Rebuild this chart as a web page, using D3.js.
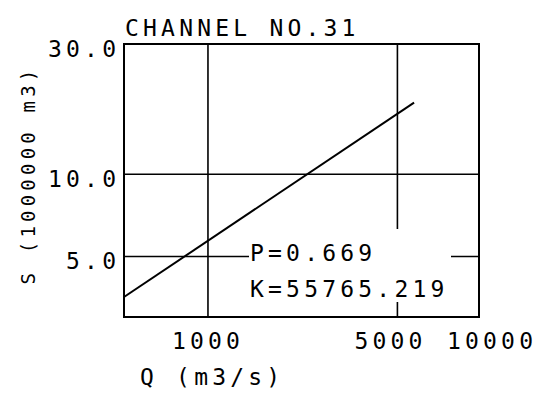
<!DOCTYPE html>
<html>
<head>
<meta charset="utf-8">
<script src="https://cdn.jsdelivr.net/npm/d3@7"></script>
<style>
  html, body { margin: 0; padding: 0; background: #fff; }
  svg { display: block; }
</style>
</head>
<body>
<div class="chart"></div>
<script>
// values
const titleText = "CHANNEL NO.31"
const xTitle = "Q (m3/s)"
const yTitle = "S (1000000 m3)"

const xDomain = [490, 10000]
const yDomain = [3, 30]

const xTickValues = [1000, 5000, 10000]
const xTickLabels = ["1000", "5000", "10000"]
const yTickValues = [5, 10, 30]
const yTickLabels = ["5.0", "10.0", "30.0"]

const xGridValues = [1000, 5000]
const yGridValues = [5, 10]

// fitted line end points (Q, S)
const fitQ = [490, 5760]
const fitS = [3.55, 18.3]

const fitParams = ["P=0.669", "K=55765.219"]

const width = 540
const height = 403

function drawChart() {
    const left = 124, right = 479, top = 44, bottom = 317

    const x = d3.scaleLog().domain(xDomain).range([left, right])
    const y = d3.scaleLog().domain(yDomain).range([bottom, top])

    const svg = d3.create("svg")
    .attr("width", width)
    .attr("height", height)
    .attr("viewBox", [0, 0, width, height])

    svg.append("rect")
    .attr("width", width)
    .attr("height", height)
    .attr("fill", "white")

    const font = "DejaVu Sans Mono, monospace"
    const ls = 4.2   // plotter font is widely spaced

    // grid lines
    const grid = svg.append("g")
    .attr("stroke", "black")
    .attr("stroke-width", 1.6)

    grid.selectAll(".vg")
    .data(xGridValues)
    .join("line")
    .attr("class", "vg")
    .attr("x1", d => x(d)).attr("x2", d => x(d))
    .attr("y1", top).attr("y2", bottom)

    grid.selectAll(".hg")
    .data(yGridValues)
    .join("line")
    .attr("class", "hg")
    .attr("x1", left).attr("x2", right)
    .attr("y1", d => y(d)).attr("y2", d => y(d))

    // white patch behind the P / K annotation
    svg.append("rect")
    .attr("x", 249)
    .attr("y", 229)
    .attr("width", 202)
    .attr("height", 73)
    .attr("fill", "white")

    // frame
    svg.append("rect")
    .attr("x", left)
    .attr("y", top)
    .attr("width", right - left)
    .attr("height", bottom - top)
    .attr("fill", "none")
    .attr("stroke", "black")
    .attr("stroke-width", 2)

    // fitted line
    const line = d3.line()
    .x(d => x(d[0]))
    .y(d => y(d[1]))

    svg.append("path")
    .datum(d3.zip(fitQ, fitS))
    .attr("d", line)
    .attr("fill", "none")
    .attr("stroke", "black")
    .attr("stroke-width", 2)

    const txt = (sel) => sel
    .style("font-family", font)
    .style("font-size", "23px")
    .style("letter-spacing", ls + "px")
    .style("font-feature-settings", "'zero' 1")
    .attr("fill", "black")

    // y tick labels
    svg.append("g")
    .selectAll("text")
    .data(yTickValues)
    .join("text")
    .call(txt)
    .attr("text-anchor", "end")
    .attr("x", 116 + ls)
    .attr("y", d => y(d) + 13)
    .text((d, i) => yTickLabels[i])

    // x tick labels (plotter placed them a little unevenly)
    const nudge = [-2, -9, 11]
    svg.append("g")
    .selectAll("text")
    .data(xTickValues)
    .join("text")
    .call(txt)
    .attr("text-anchor", "middle")
    .attr("x", (d, i) => x(d) + nudge[i] + ls / 2)
    .attr("y", 349)
    .text((d, i) => xTickLabels[i])

    // title
    svg.append("text")
    .call(txt)
    .attr("x", 125)
    .attr("y", 36)
    .text(titleText)

    // axis titles
    svg.append("text")
    .call(txt)
    .attr("x", 140)
    .attr("y", 385)
    .text(xTitle)

    svg.append("text")
    .call(txt)
    .style("font-size", "19px")
    .style("letter-spacing", "4.2px")
    .attr("text-anchor", "middle")
    .attr("transform", "translate(35, 175) rotate(-90)")
    .text(yTitle)

    // fit parameters
    svg.append("g")
    .selectAll("text")
    .data(fitParams)
    .join("text")
    .call(txt)
    .attr("x", 250)
    .attr("y", (d, i) => 261 + i * 36)
    .text(d => d)

    document.querySelector(".chart").append(svg.node())
}

drawChart()
</script>
</body>
</html>
